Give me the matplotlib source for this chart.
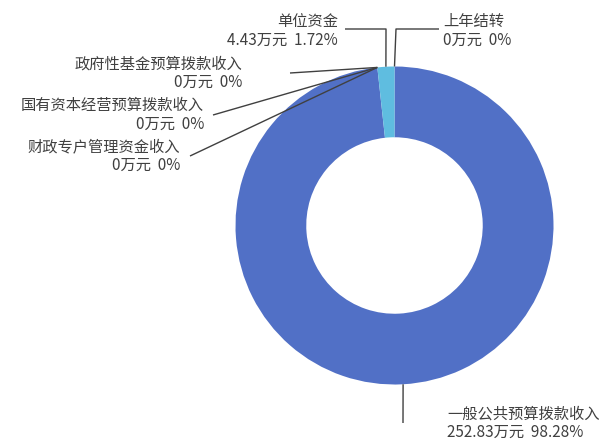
import numpy as np
import matplotlib
matplotlib.use("Agg")
import matplotlib.pyplot as plt

plt.rcParams['font.family'] = ['Noto Sans CJK SC', 'DejaVu Sans']

# 数据
names = ["一般公共预算拨款收入", "财政专户管理资金收入", "国有资本经营预算拨款收入",
         "政府性基金预算拨款收入", "单位资金", "上年结转"]
values = [252.83, 0, 0, 0, 4.43, 0]
pcts = ["98.28%", "0%", "0%", "0%", "1.72%", "0%"]
colors = ["#5170c6", "#5170c6", "#5170c6", "#5170c6", "#5fbde0", "#5fbde0"]

# label layout: text anchor (x, y in px from top), elbow point, alignment
layout = [
    ((447, 423), [(403, 423)], "left"),
    ((180, 156), [(190, 156)], "right"),
    ((204, 115), [(213, 115)], "right"),
    ((242, 73), [(290, 73)], "right"),
    ((338, 31), [(386, 29), (345, 29)], "right"),
    ((443, 31), [(396, 29), (439, 29)], "left"),
]

W, H = 612, 441
fig = plt.figure(figsize=(W / 100, H / 100), dpi=100)
ax = fig.add_axes([0, 0, 1, 1])
cx, cy, R = 394.5, H - 225.5, 159

wedges, _ = ax.pie(values, colors=colors, startangle=90, counterclock=False,
                   radius=R, center=(cx, cy),
                   wedgeprops=dict(width=R * 0.445, linewidth=0))

for i, w in enumerate(wedges):
    mid = np.deg2rad((w.theta1 + w.theta2) / 2)
    px, py = cx + R * np.cos(mid), cy + R * np.sin(mid)
    (tx, ty), elbows, ha = layout[i]
    pts = [(px, py)] + [(ex, H - ey) for ex, ey in elbows]
    xs, ys = zip(*pts)
    ax.plot(xs, ys, color="#404040", lw=1.0, solid_capstyle="butt")
    val = "%g" % values[i]
    ax.text(tx, H - ty, "%s\n%s万元  %s" % (names[i], val, pcts[i]),
            ha=ha, va="center", fontsize=11, color="#404040", linespacing=1.1)

ax.set_xlim(0, W)
ax.set_ylim(0, H)
ax.set_aspect("equal")
ax.axis("off")
fig.savefig("out.png", dpi=100)
